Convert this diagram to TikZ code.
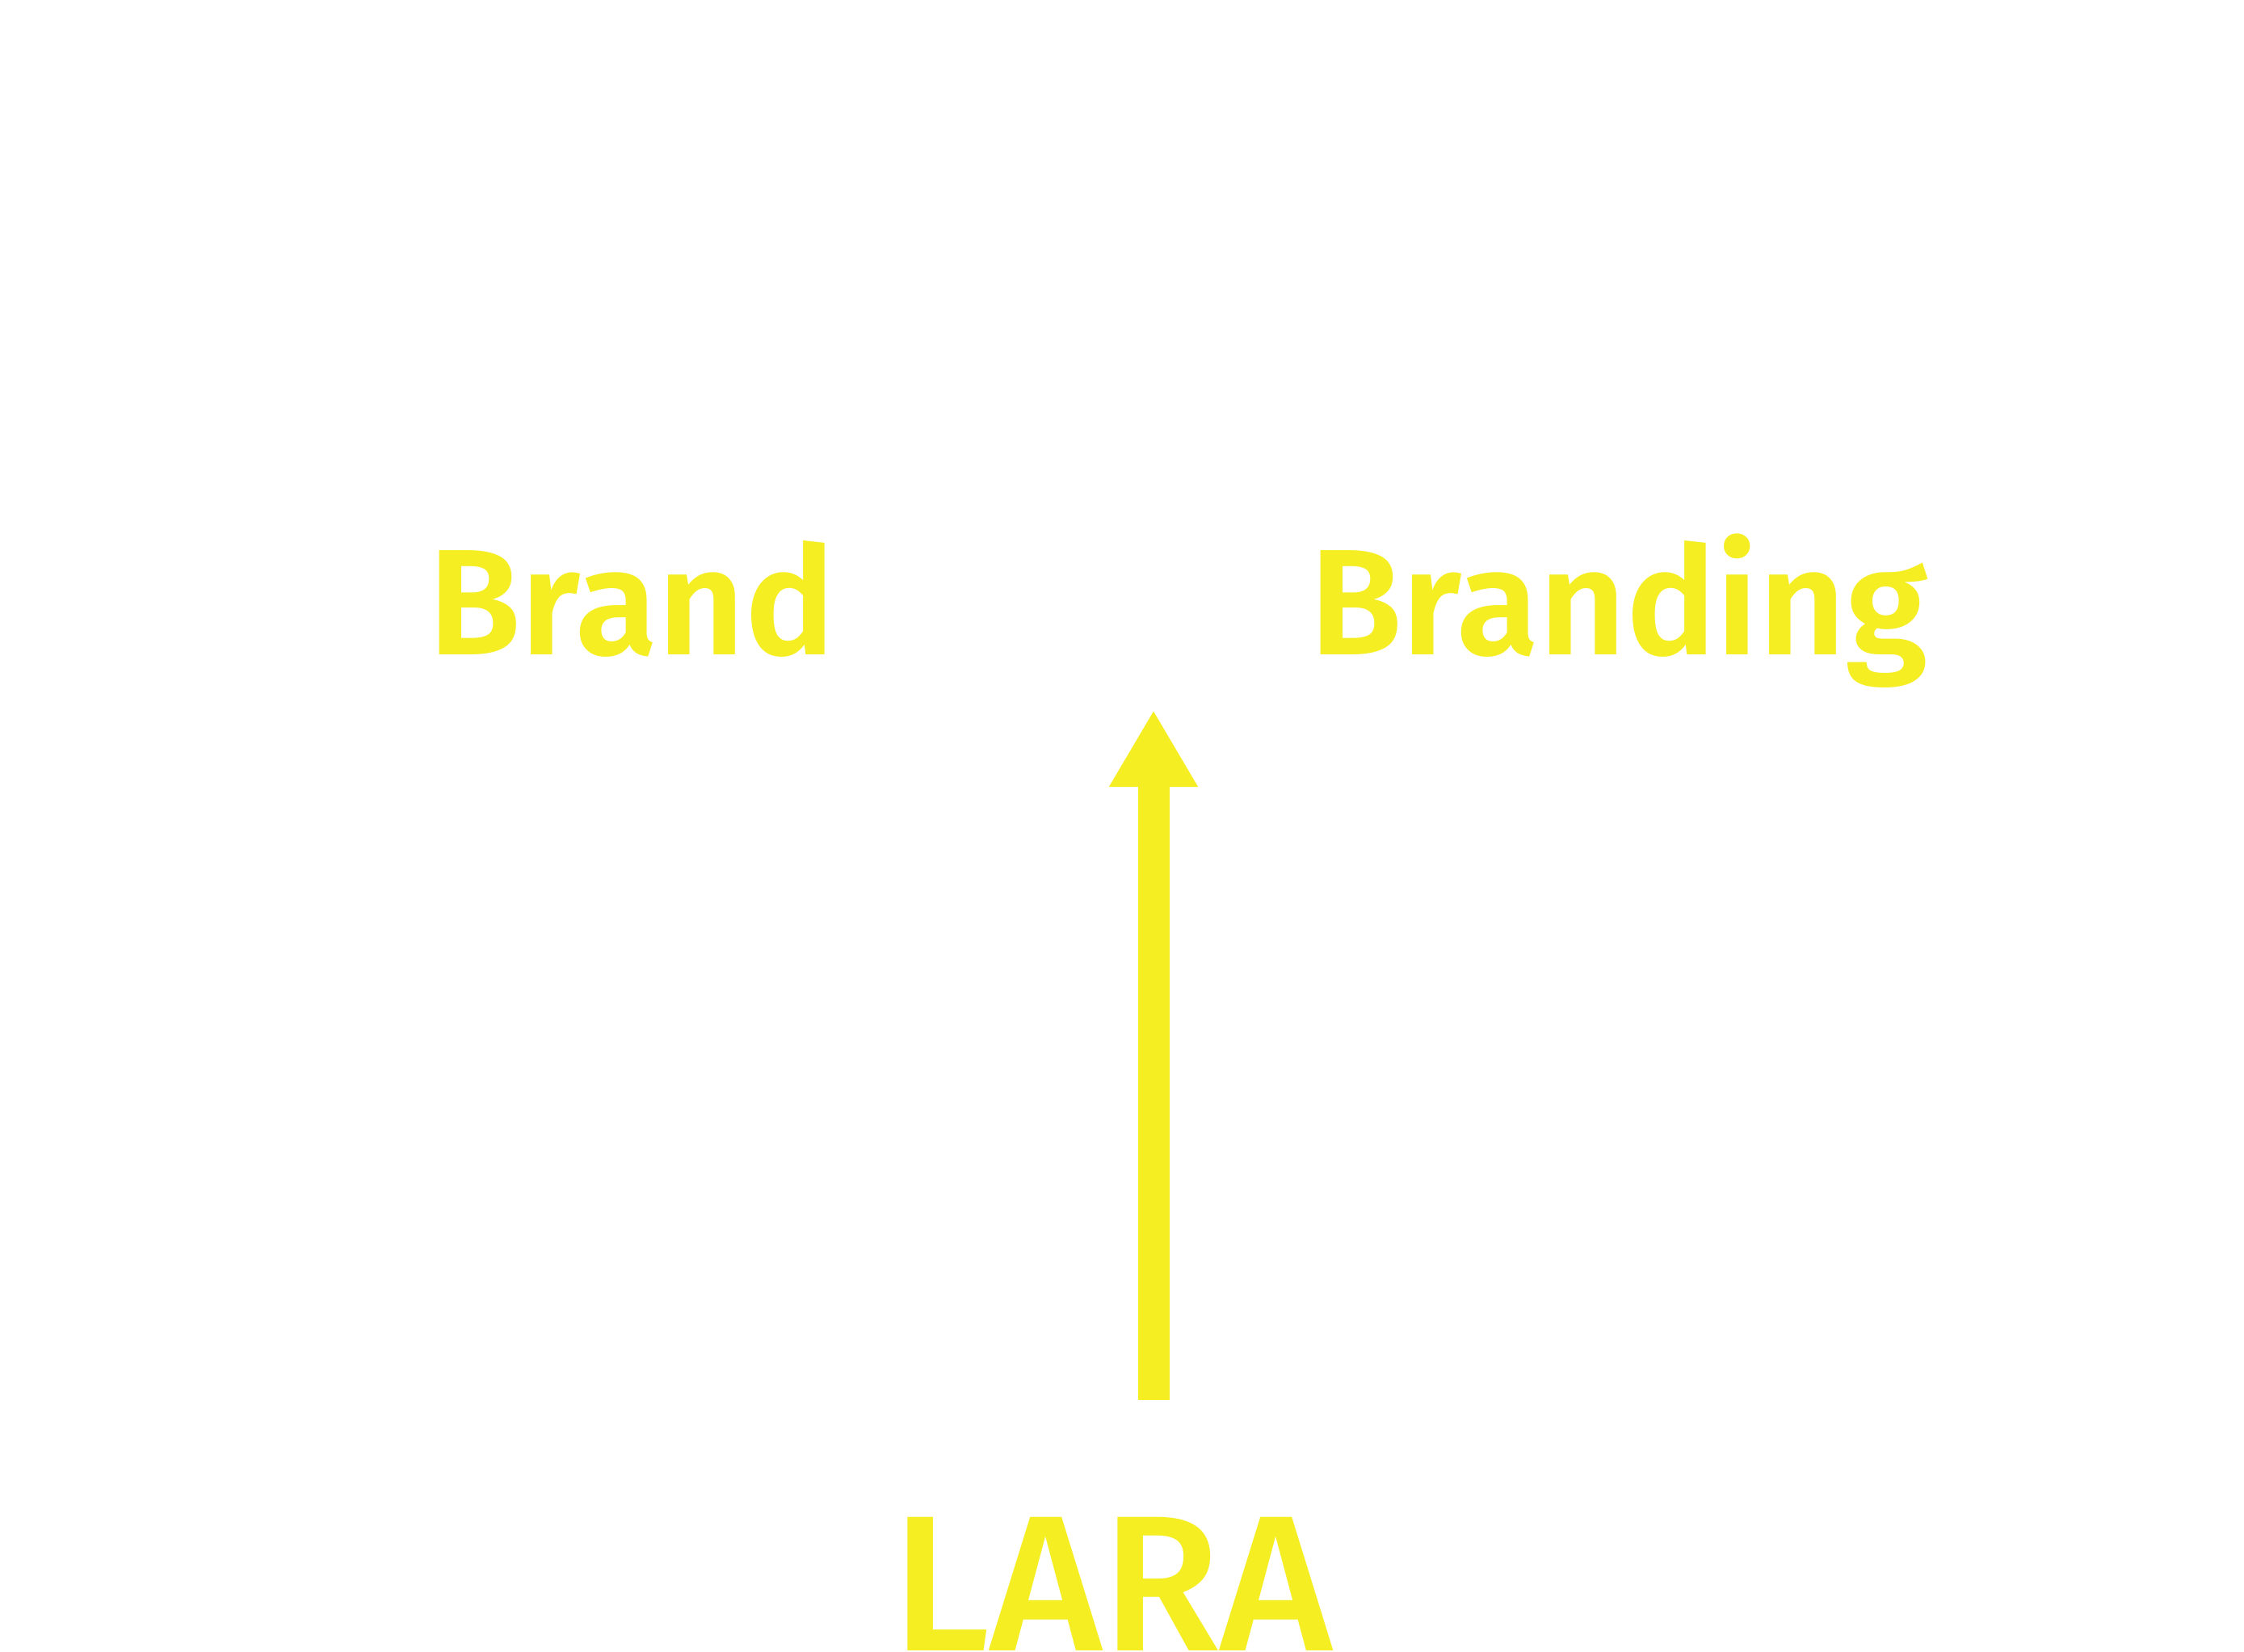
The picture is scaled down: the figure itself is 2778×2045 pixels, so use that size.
\documentclass[tikz,border=0pt]{standalone}
\usepackage{fontspec}
\setmainfont{Fira Sans}
\newfontfamily\brandfont{Fira Sans SemiBold}
\newfontfamily\larafont{Fira Sans Medium}
\usetikzlibrary{arrows.meta}
\definecolor{laray}{RGB}{245,238,35}
\tikzset{
  lbl/.style={inner sep=0pt, outer sep=0pt, text=laray, anchor=base west},
  brandlbl/.style={lbl, font=\brandfont\fontsize{53}{60}\selectfont},
  laralbl/.style={lbl, font=\larafont\fontsize{68}{76}\selectfont},
  bigarrow/.style={draw=laray, line width=0.39cm, line cap=butt,
    -{Triangle[width=1.03cm,length=0.95cm]}}
}
\begin{document}
\begin{tikzpicture}[x={(0.01cm,0)}, y={(0,-0.01cm)}]
\useasboundingbox (0,0) rectangle (2778,2045);
\node[brandlbl] (brand) at (530,810) {Brand};
\node[brandlbl] (branding) at (1621,810) {Branding};
\node[laralbl] (lara) at (1104,2043) {LARA};
\coordinate (arrowstart) at (1428,1733);
\coordinate (arrowtip) at (1428,879);
\draw[bigarrow] (arrowstart) -- (arrowtip);
\end{tikzpicture}
\end{document}
